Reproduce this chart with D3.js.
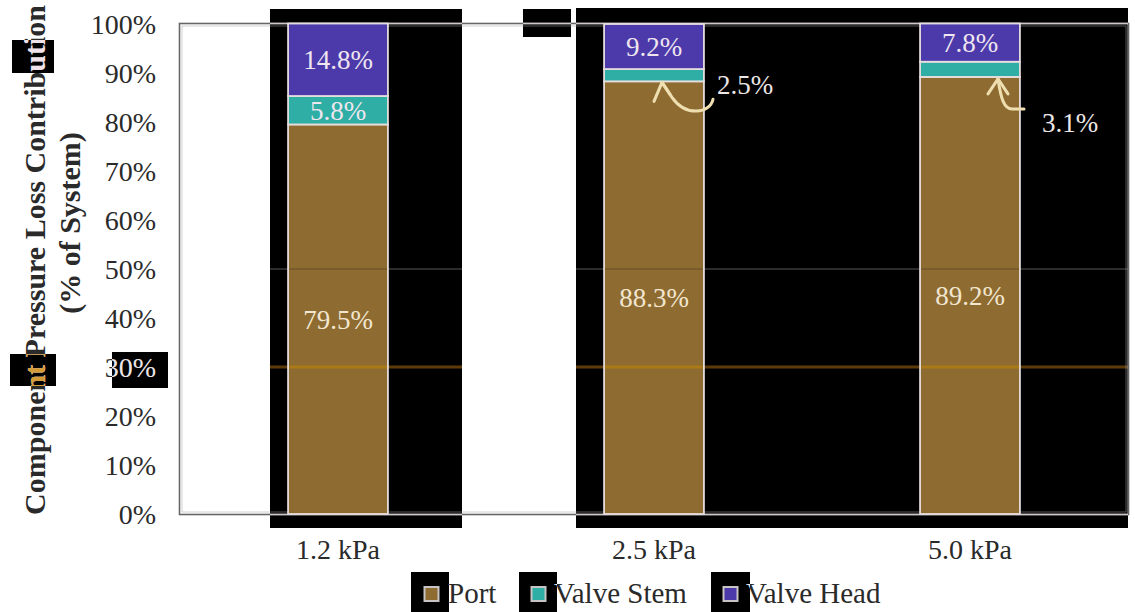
<!DOCTYPE html>
<html>
<head>
<meta charset="utf-8">
<script src="https://cdn.jsdelivr.net/npm/d3@7/dist/d3.min.js"></script>
<style>
  html, body { margin: 0; padding: 0; background: #fff; }
  svg { display: block; }
</style>
</head>
<body>
<svg id="chart" width="1135" height="612" font-family="'Liberation Serif', 'Times New Roman', Times, 'DejaVu Serif', serif"></svg>
<script>
// Pressure-loss breakdown per test pressure
const categories = ["1.2 kPa", "2.5 kPa", "5.0 kPa"];
const port = [79.5, 88.3, 89.2];
const valveStem = [5.8, 2.5, 3.1];
const valveHead = [14.8, 9.2, 7.8];
const seriesNames = ["Port", "Valve Stem", "Valve Head"];
const yTicks = [0, 10, 20, 30, 40, 50, 60, 70, 80, 90, 100];

const colors = { "Port": "#8e6c31", "Valve Stem": "#2eaea4", "Valve Head": "#4c3aaa" };
const SERIF = "Liberation Serif";

const W = 1135, H = 612;
const plot = { left: 180, right: 1128, top: 24, bottom: 514 };

const svg = d3.select("#chart");

const x = d3.scaleBand().domain(categories)
  .range([plot.left, plot.right]).paddingInner(0.684).paddingOuter(0.342);
const y = d3.scaleLinear().domain([0, 100]).range([plot.bottom, plot.top]);

const rows = categories.map((c, i) => ({
  cat: c, "Port": port[i], "Valve Stem": valveStem[i], "Valve Head": valveHead[i]
}));
const stacked = d3.stack().keys(seriesNames)(rows);

// dark backing panels
const darkPanels = [
  [270, 9, 192, 519], [523, 9, 48, 28], [576, 8, 552, 520],
  [12, 40, 42, 33], [10, 354, 46, 32], [112, 352, 56, 36],
  [411, 572, 38, 40], [519, 572, 38, 40], [711, 572, 39, 40]
];

const defs = svg.append("defs");
const clip = defs.append("clipPath").attr("id", "darkClip");
darkPanels.forEach(p => clip.append("rect").attr("x", p[0]).attr("y", p[1]).attr("width", p[2]).attr("height", p[3]));
const clipT = defs.append("clipPath").attr("id", "tClip");
clipT.append("rect").attr("x", 10).attr("y", 354).attr("width", 46).attr("height", 32);

svg.append("rect").attr("width", W).attr("height", H).attr("fill", "#fff");
svg.selectAll("rect.panel").data(darkPanels).join("rect")
  .attr("class", "panel")
  .attr("x", d => d[0]).attr("y", d => d[1]).attr("width", d => d[2]).attr("height", d => d[3])
  .attr("fill", "#000");

// faint gridlines, only visible over the dark panels
const gridSegs = [];
darkPanels.forEach(p => {
  const x0 = Math.max(p[0], plot.left), x1 = Math.min(p[0] + p[2], plot.right);
  if (x1 <= x0) return;
  [[50, "#2c2c2c", 2], [30, "#5e3a08", 3]].forEach(([v, c, w]) => {
    if (y(v) > p[1] && y(v) < p[1] + p[3]) gridSegs.push({ x0, x1, v, c, w });
  });
});
svg.append("g").selectAll("line").data(gridSegs).join("line")
  .attr("x1", d => d.x0).attr("x2", d => d.x1)
  .attr("y1", d => y(d.v)).attr("y2", d => y(d.v))
  .attr("stroke", d => d.c).attr("stroke-width", d => d.w);

const TITLE_SIZE = 30;

// text + frame layer, drawn once in ink and again in light tone inside the dark panels
function drawFrame(g, ink, frameInk, titleInk) {
  g.append("g").selectAll("text").data(yTicks).join("text")
    .attr("x", 156).attr("y", d => y(d)).attr("dy", "0.35em")
    .attr("text-anchor", "end").attr("font-size", 28).attr("fill", ink)
    .attr("font-family", SERIF)
    .text(d => d + "%");
  g.append("g").selectAll("text").data(categories).join("text")
    .attr("x", d => x(d) + x.bandwidth() / 2).attr("y", 549).attr("dy", "0.35em")
    .attr("text-anchor", "middle").attr("font-size", 28).attr("fill", ink)
    .attr("font-family", SERIF)
    .text(d => d);
  const t = g.append("g").attr("fill", titleInk).attr("font-weight", "bold")
    .attr("font-size", TITLE_SIZE).attr("font-family", SERIF);
  t.append("text").attr("transform", "translate(34,260) rotate(-90)")
    .attr("text-anchor", "middle").attr("dy", "0.35em").text("Component Pressure Loss Contribution");
  t.append("text").attr("transform", "translate(69,223) rotate(-90)")
    .attr("text-anchor", "middle").attr("dy", "0.35em").text("(% of System)");
  const legX = [448, 554, 746];
  g.append("g").selectAll("text").data(seriesNames).join("text")
    .attr("x", (d, i) => legX[i]).attr("y", 593).attr("dy", "0.35em")
    .attr("font-size", 29).attr("fill", ink).attr("font-family", SERIF).text(d => d);
  g.append("rect").attr("x", plot.left - 0.5).attr("y", plot.top - 0.5)
    .attr("width", plot.right - plot.left + 1).attr("height", plot.bottom - plot.top + 1)
    .attr("fill", "none").attr("stroke", frameInk).attr("stroke-width", 1.6);
  g.append("rect").attr("x", plot.left + 2).attr("y", plot.top + 2)
    .attr("width", plot.right - plot.left - 4).attr("height", plot.bottom - plot.top - 4)
    .attr("fill", "none").attr("stroke", frameInk).attr("stroke-width", 0.6).attr("opacity", 0.5);
}

const inkLayer = svg.append("g");
drawFrame(inkLayer, "#2a2a2a", "#666", "#2a2a2a");

const lightLayer = svg.append("g").attr("clip-path", "url(#darkClip)");
drawFrame(lightLayer, "#ece4e4", "#cfc8c8", "#efe2ea");

const tLayer = svg.append("g").attr("clip-path", "url(#tClip)");
tLayer.append("text").attr("transform", "translate(34,260) rotate(-90)")
  .attr("text-anchor", "middle").attr("dy", "0.35em").attr("font-family", SERIF)
  .attr("font-weight", "bold").attr("font-size", TITLE_SIZE).attr("fill", "#d49a38")
  .text("Component Pressure Loss Contribution");

// stacked bars
const bars = svg.append("g");
stacked.forEach(layer => {
  bars.append("g").attr("fill", colors[layer.key]).selectAll("rect").data(layer).join("rect")
    .attr("x", d => x(d.data.cat)).attr("width", x.bandwidth())
    .attr("y", d => y(d[1])).attr("height", d => y(d[0]) - y(d[1]))
    .attr("stroke", "#e6dede").attr("stroke-width", 1.8);
});
// grid traces over the bars
bars.append("g").selectAll("line").data(categories).join("line")
  .attr("x1", d => x(d) + 1).attr("x2", d => x(d) + x.bandwidth() - 1)
  .attr("y1", y(30)).attr("y2", y(30)).attr("stroke", "#b5800c").attr("stroke-width", 3).attr("opacity", 0.7);
bars.append("g").selectAll("line").data(categories).join("line")
  .attr("x1", d => x(d) + 1).attr("x2", d => x(d) + x.bandwidth() - 1)
  .attr("y1", y(50)).attr("y2", y(50)).attr("stroke", "#5a4520").attr("stroke-width", 1.5).attr("opacity", 0.5);

// value labels inside segments
const labelG = svg.append("g").attr("font-size", 27).attr("text-anchor", "middle").attr("font-family", SERIF);
stacked.forEach(layer => {
  layer.forEach((d, i) => {
    const v = d.data[layer.key];
    if (layer.key === "Valve Stem" && i > 0) return;
    labelG.append("text")
      .attr("x", x(d.data.cat) + x.bandwidth() / 2)
      .attr("y", y((d[0] + d[1]) / 2)).attr("dy", "0.35em")
      .attr("fill", layer.key === "Port" ? "#f2e6d0" : "#efe6f0")
      .text(v.toFixed(1) + "%");
  });
});

// call-outs for the thin valve-stem segments
const callouts = [
  { i: 1, dx: 8, lx: 717, ly: 85,
    curve: (tx, ty) => `M${tx + 51},${ty + 18} C${tx + 48},${ty + 32} ${tx + 24},${ty + 36} ${tx + 10},${ty + 16} L${tx},${ty + 1}`,
    head: (tx, ty) => `M${tx - 8},${ty + 20} L${tx},${ty + 1} L${tx + 8},${ty + 13}` },
  { i: 2, dx: 28, lx: 1042, ly: 123,
    curve: (tx, ty) => `M${tx + 26},${ty + 32} L${tx + 14},${ty + 32} C${tx + 6},${ty + 32} ${tx + 3},${ty + 22} ${tx},${ty + 2}`,
    head: (tx, ty) => `M${tx - 10},${ty + 17} L${tx},${ty + 2} L${tx + 10},${ty + 17}` }
];
const ann = svg.append("g");
callouts.forEach(c => {
  const tx = x(categories[c.i]) + x.bandwidth() / 2 + c.dx;
  const ty = y(port[c.i]);
  ann.append("path").attr("d", c.curve(tx, ty)).attr("fill", "none")
    .attr("stroke", "#efdfb0").attr("stroke-width", 3).attr("stroke-linecap", "round");
  ann.append("path").attr("d", c.head(tx, ty)).attr("fill", "none")
    .attr("stroke", "#efdfb0").attr("stroke-width", 3).attr("stroke-linecap", "round").attr("stroke-linejoin", "round");
  ann.append("text").attr("x", c.lx).attr("y", c.ly).attr("dy", "0.35em").attr("font-family", SERIF)
    .attr("font-size", 27).attr("fill", "#ece6e6").text(valveStem[c.i].toFixed(1) + "%");
});

// legend swatches
const swX = [431.5, 538.5, 730.5];
svg.append("g").selectAll("rect").data(seriesNames).join("rect")
  .attr("x", (d, i) => swX[i] - 7).attr("y", 587).attr("width", 14).attr("height", 14)
  .attr("fill", d => colors[d]).attr("stroke", "#c8c4c4").attr("stroke-width", 2);
</script>
</body>
</html>
